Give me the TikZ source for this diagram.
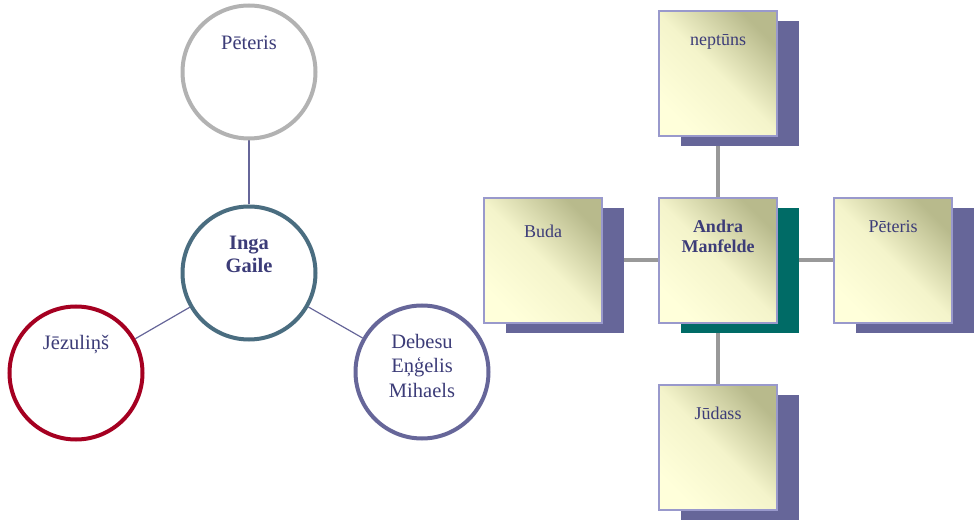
\documentclass[tikz,border=0pt]{standalone}
\usepackage{fontspec}
\setmainfont{Liberation Serif}
\usetikzlibrary{shadows,backgrounds}
\definecolor{ringgray}{HTML}{B2B2B2}
\definecolor{ringsteel}{HTML}{4A6D80}
\definecolor{ringred}{HTML}{A50021}
\definecolor{ringviolet}{HTML}{666699}
\definecolor{inkblue}{HTML}{3C3C78}
\definecolor{cardedge}{HTML}{9999CC}
\definecolor{cardlight}{HTML}{FFFFDA}
\definecolor{cardmid}{HTML}{F4F4CB}
\definecolor{carddark}{HTML}{B8BA8C}
\definecolor{shadeviolet}{HTML}{666699}
\definecolor{shadeteal}{HTML}{006B66}
\definecolor{spoke}{HTML}{999999}
\tikzset{
  ring/.style={circle, draw=#1, line width=4pt, minimum size=133pt, inner sep=0pt, fill=white},
  ringtext/.style={text=inkblue, font=\fontsize{20.5}{25}\selectfont, align=center, anchor=base},
  card/.style={rectangle, draw=cardedge, line width=1.2pt, minimum width=118pt, minimum height=125pt,
    inner sep=0pt, top color=carddark, bottom color=cardlight, middle color=cardmid, shading angle=-45,
    general shadow={fill=#1, shadow xshift=22pt, shadow yshift=-10pt}},
  cardtext/.style={text=inkblue, font=\fontsize{18}{20}\selectfont, align=center, anchor=base},
  thinlink/.style={draw=ringviolet, line width=1.2pt},
  thicklink/.style={draw=spoke, line width=4pt}
}
\begin{document}
\begin{tikzpicture}[x=1pt,y=-1pt]
  \useasboundingbox (0,0) rectangle (975,521);

  % left: circles
  \node[ring=ringgray] (peteris) at (249,72) {};
  \node[ring=ringsteel] (inga) at (249,273) {};
  \node[ring=ringred] (jezulins) at (76,373) {};
  \node[ring=ringviolet] (debesu) at (422,372) {};
  \node[ringtext] (peterisT) at ([yshift=22pt]peteris.center) {Pēteris};
  \node[ringtext, font=\fontsize{20.5}{23}\selectfont\bfseries] (ingaT) at (inga.center) {Inga\\Gaile};
  \node[ringtext] (jezulinsT) at ([yshift=23pt]jezulins.center) {Jēzuliņš};
  \node[ringtext] (debesuT) at ([yshift=-26pt]debesu.center) {Debesu\\Eņģelis\\Mihaels};

  % right: cards
  \node[card=shadeviolet] (neptuns) at (718,73.5) {};
  \node[card=shadeviolet] (buda) at (543,260.5) {};
  \node[card=shadeteal] (andra) at (718,260.5) {};
  \node[card=shadeviolet] (peteris2) at (893,260.5) {};
  \node[card=shadeviolet] (judass) at (718,447.5) {};
  \node[cardtext] (neptunsT) at ([yshift=28pt]neptuns.center) {neptūns};
  \node[cardtext] (budaT) at ([yshift=23pt]buda.center) {Buda};
  \node[cardtext, font=\fontsize{18}{20}\selectfont\bfseries] (andraT) at ([yshift=8pt]andra.center) {Andra\\Manfelde};
  \node[cardtext] (peteris2T) at ([yshift=28pt]peteris2.center) {Pēteris};
  \node[cardtext] (judassT) at ([yshift=28pt]judass.center) {Jūdass};

  \begin{scope}[on background layer]
    \draw[thinlink] (inga) -- (peteris);
    \draw[thinlink] (inga) -- (jezulins);
    \draw[thinlink] (inga) -- (debesu);
    \draw[thicklink] (andra) -- (neptuns);
    \draw[thicklink] (andra) -- (buda);
    \draw[thicklink] (andra) -- (peteris2);
    \draw[thicklink] (andra) -- (judass);
  \end{scope}
\end{tikzpicture}
\end{document}
